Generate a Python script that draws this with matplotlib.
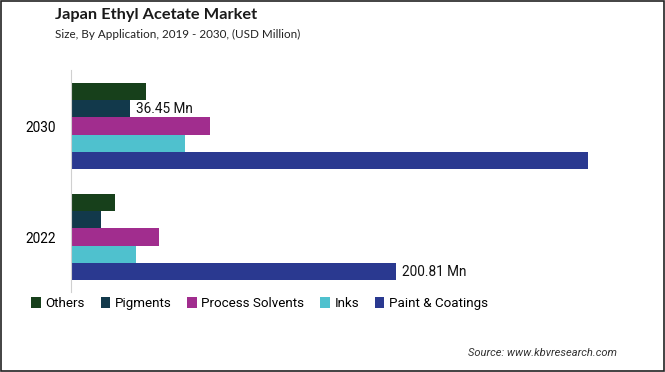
import matplotlib
matplotlib.use("Agg")
import matplotlib.pyplot as plt
from matplotlib.patches import Rectangle
import numpy as np

# ── Data ──────────────────────────────────────────────────────────────────────

years    = ["2022", "2030"]
segments = ["Others", "Pigments", "Process Solvents", "Inks", "Paint & Coatings"]
colors   = ["#17401b", "#12394b", "#a12d8e", "#4fc1ce", "#2a3990"]

values = {
    "Others":           [27.1, 45.9],
    "Pigments":         [18.4, 36.45],
    "Process Solvents": [54.3, 85.9],
    "Inks":             [40.2, 70.5],
    "Paint & Coatings": [200.81, 319.3],
}

NARROW = ["Roboto", "DejaVu Sans"]

# ── Plot ──────────────────────────────────────────────────────────────────────

fig = plt.figure(figsize=(6.65, 3.72), dpi=100)
ax = fig.add_axes([0.1075, 0.215, 0.843, 0.597])

h = 0.156
y = np.arange(len(years))
for i, seg in enumerate(segments):
    offset = (2 - i) * h
    ax.barh(y + offset, values[seg], height=h, color=colors[i], linewidth=0)

# value labels
ax.text(values["Pigments"][1] + 3.5, y[1] + h, "36.45 Mn",
        ha="left", va="center", fontsize=9.8, family=NARROW, color="#111111")
ax.text(values["Paint & Coatings"][0] + 3.5, y[0] - 2 * h, "200.81 Mn",
        ha="left", va="center", fontsize=9.8, family=NARROW, color="#111111")

ax.set_xlim(0, 346.8)
ax.set_ylim(-0.495, 1.505)
ax.set_yticks(y)
ax.set_yticklabels(years, family=NARROW, fontsize=9.8)
ax.tick_params(axis="y", length=0, pad=11)
ax.set_xticks([])
for side in ["top", "right", "bottom"]:
    ax.spines[side].set_visible(False)
ax.spines["left"].set_color("#d0d0d0")
ax.spines["left"].set_linewidth(0.8)

# legend
handles = [Rectangle((0, 0), 1, 1, facecolor=c, label=s)
           for s, c in zip(segments, colors)]
fig.legend(handles=handles, loc="center left", bbox_to_anchor=(0.029, 0.185),
           ncol=5, frameon=False, handlelength=0.7, handleheight=0.9,
           handletextpad=0.35, columnspacing=1.2,
           prop={"family": NARROW, "size": 9.6})

# titles
fig.text(0.083, 0.96, "Japan Ethyl Acetate Market", fontsize=11.8,
         fontweight="bold", family=["Lato", "DejaVu Sans"], va="center",
         color="#1a1a1a")
fig.text(0.083, 0.908, "Size, By Application, 2019 - 2030, (USD Million)",
         fontsize=8.4, family=["Lato", "DejaVu Sans"], va="center",
         color="#222222")
fig.text(0.928, 0.051, "Source: www.kbvresearch.com", fontsize=8,
         style="italic", family=NARROW, ha="right", va="center",
         color="#333333")

# outer frame
fig.patches.append(Rectangle((0.0015, 0.0025), 0.997, 0.995,
                             transform=fig.transFigure, fill=False,
                             edgecolor="#222222", linewidth=1.2))

fig.savefig("out.png", dpi=100)
plt.close(fig)
